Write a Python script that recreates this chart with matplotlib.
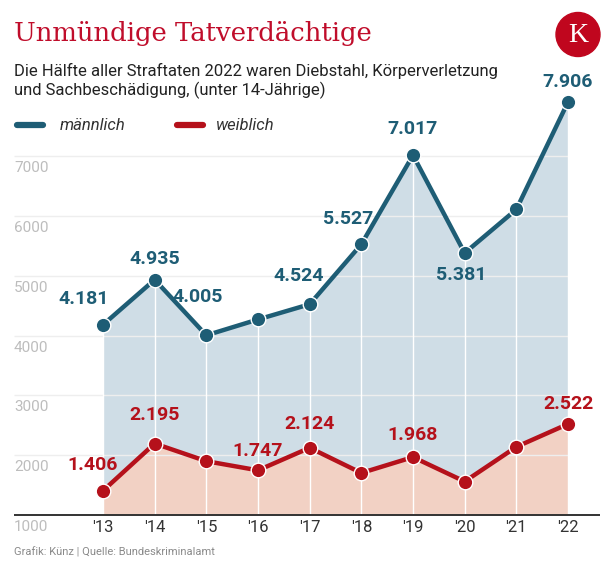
import matplotlib
matplotlib.use("Agg")
import matplotlib.pyplot as plt
from matplotlib.patches import Ellipse
import matplotlib.transforms as mtransforms

# Daten (Tatverdächtige unter 14 Jahren)
years = [2013, 2014, 2015, 2016, 2017, 2018, 2019, 2020, 2021, 2022]
year_labels = ["'13", "'14", "'15", "'16", "'17", "'18", "'19", "'20", "'21", "'22"]
male = [4181, 4935, 4005, 4270, 4524, 5527, 7017, 5381, 6110, 7906]
female = [1406, 2195, 1900, 1747, 2124, 1703, 1968, 1560, 2139, 2522]
y_ticks = [1000, 2000, 3000, 4000, 5000, 6000, 7000]

# welche Punkte beschriftet werden + Versatz in Pixel
male_lab = {2013: (-19, 26), 2014: (0, 21), 2015: (-9, 38), 2017: (-11, 28),
            2018: (-13, 25), 2019: (0, 26), 2020: (-3, -22), 2022: (0, 20)}
female_lab = {2013: (-10, 26), 2014: (0, 29), 2016: (0, 19), 2017: (0, 24),
              2019: (0, 22), 2022: (0, 20)}

c_male = "#1e5d75"
c_male_fill = "#cfdde6"
c_female = "#b5111b"
c_female_fill = "#f2d1c4"
c_title = "#c00d2b"

W, H = 616, 572
fig = plt.figure(figsize=(W / 100, H / 100), dpi=100)

# Achse in Pixeln platzieren
left_px, right_px, base_px, top_px = 14, 600, 515, 80
px_per_unit = 59.8 / 1000
ax = fig.add_axes([left_px / W, (H - base_px) / H,
                   (right_px - left_px) / W, (base_px - top_px) / H])
yr_px = (568 - 103) / 9
ax.set_xlim(2013 - (103 - left_px) / yr_px, 2022 + (right_px - 568) / yr_px)
ax.set_ylim(1000, 1000 + (base_px - top_px) / px_per_unit)
ax.axis("off")

ax.fill_between(years, 1000, male, color=c_male_fill, lw=0, zorder=1)
ax.fill_between(years, 1000, female, color=c_female_fill, lw=0, zorder=1.2)

# Gitterlinien
x0 = ax.get_xlim()[0]
ax.hlines(y_ticks[1:], x0, 2022, colors="#eeeeee", lw=1, zorder=1.5)
ax.vlines(years, 1000, male, colors="white", lw=1, zorder=1.6)
ax.hlines(1000, x0, ax.get_xlim()[1], colors="#333333", lw=1.4, zorder=2, clip_on=False)

ax.plot(years, male, color=c_male, lw=3.2, marker="o", ms=10.5,
        mec="white", mew=1, zorder=4, clip_on=False, solid_capstyle="round")
ax.plot(years, female, color=c_female, lw=3.2, marker="o", ms=10.5,
        mec="white", mew=1, zorder=4, clip_on=False, solid_capstyle="round")

lab_font = dict(family="Roboto", fontweight="bold", fontsize=14, ha="center", va="center")
for yr, v in zip(years, male):
    if yr in male_lab:
        dx, dy = male_lab[yr]
        ax.annotate(f"{v / 1000:.3f}", (yr, v), xytext=(dx, dy),
                    textcoords="offset pixels", color=c_male, zorder=5, **lab_font)
for yr, v in zip(years, female):
    if yr in female_lab:
        dx, dy = female_lab[yr]
        ax.annotate(f"{v / 1000:.3f}", (yr, v), xytext=(dx, dy),
                    textcoords="offset pixels", color=c_female, zorder=5, **lab_font)

# Achsenbeschriftungen
trans_y = mtransforms.blended_transform_factory(ax.transAxes, ax.transData)
off = mtransforms.offset_copy(trans_y, fig=fig, x=0, y=-12, units="dots")
for t in y_ticks:
    ax.text(0, t, str(t), transform=off, ha="left", va="center",
            family="Roboto", fontsize=11, color="#bdbdbd")
off_x = mtransforms.offset_copy(ax.transData, fig=fig, x=0, y=-13, units="dots")
for yr, lab in zip(years, year_labels):
    ax.text(yr, 1000, lab, transform=off_x, ha="center", va="center",
            family="Roboto", fontsize=12, color="#333333")

# Titel, Untertitel, Legende, Quelle
fig.text(14 / W, 1 - 34 / H, "Unmündige Tatverdächtige", family="DejaVu Serif",
         fontsize=18.6, color=c_title, ha="left", va="center")
fig.text(14 / W, 1 - 81 / H,
         "Die Hälfte aller Straftaten 2022 waren Diebstahl, Körperverletzung\n"
         "und Sachbeschädigung, (unter 14-Jährige)",
         family="Roboto", fontsize=12, color="#222222", ha="left", va="center",
         linespacing=1.2)

leg_y = 1 - 125 / H
fig.add_artist(plt.Line2D([17 / W, 43 / W], [leg_y, leg_y], color=c_male, lw=4.5,
                          solid_capstyle="round"))
fig.text(60 / W, leg_y, "männlich", family="Roboto", style="italic", fontsize=12,
         color="#333333", va="center")
fig.add_artist(plt.Line2D([177 / W, 203 / W], [leg_y, leg_y], color=c_female, lw=4.5,
                          solid_capstyle="round"))
fig.text(216 / W, leg_y, "weiblich", family="Roboto", style="italic", fontsize=12,
         color="#333333", va="center")

fig.text(14 / W, 1 - 552 / H, "Grafik: Künz | Quelle: Bundeskriminalamt",
         family="Roboto", fontsize=8, color="#8a8a8a", va="center")

# Logo
fig.add_artist(Ellipse((578 / W, 1 - 34.5 / H), 44 / W, 44 / H, color="#c0061e"))
fig.text(578 / W, 1 - 35 / H, "K", family="Liberation Serif", fontsize=20,
         color="white", ha="center", va="center")

fig.savefig("out.png", dpi=100)
